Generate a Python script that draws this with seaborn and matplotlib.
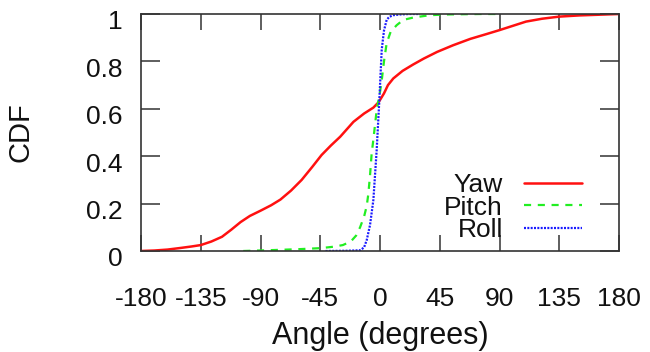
import numpy as np
import pandas as pd
import matplotlib
matplotlib.use("Agg")
import matplotlib.pyplot as plt
import matplotlib.transforms as mtransforms
import seaborn as sns

# Data
yaw_angle = [-180, -170, -160, -150, -142, -135, -127, -119, -112, -105, -98, -90, -82, -75, -67, -59, -51, -44, -37, -30, -20, -12, -5, -1, 3, 6, 10, 17, 25, 33, 43, 55, 68, 80, 90, 100, 110, 122, 135, 150, 165, 180]
yaw_cdf   = [0.0, 0.002, 0.006, 0.013, 0.019, 0.025, 0.04, 0.06, 0.09, 0.122, 0.148, 0.17, 0.193, 0.217, 0.255, 0.30, 0.355, 0.405, 0.445, 0.482, 0.545, 0.58, 0.605, 0.628, 0.665, 0.70, 0.728, 0.76, 0.787, 0.812, 0.84, 0.868, 0.895, 0.915, 0.932, 0.95, 0.968, 0.98, 0.989, 0.994, 0.997, 1.0]

pitch_angle = [-103, -80, -60, -45, -35, -28, -22, -18, -15, -12, -10, -8.8, -7.5, -6.3, -5, -4, -2.5, -1, 0, 1.3, 3, 5, 8, 12.6, 17.5, 25, 37.6, 50, 75, 90]
pitch_cdf   = [0.0, 0.004, 0.008, 0.012, 0.018, 0.025, 0.04, 0.065, 0.10, 0.145, 0.19, 0.24, 0.32, 0.41, 0.47, 0.52, 0.595, 0.64, 0.67, 0.72, 0.80, 0.876, 0.925, 0.953, 0.975, 0.985, 0.995, 0.998, 1.0, 1.0]

roll_angle = [-41, -25, -15, -12, -10, -7.5, -5, -2.5, -0.5, 1.3, 3, 5, 7, 10, 15, 22, 30]
roll_cdf   = [0.0, 0.001, 0.003, 0.015, 0.046, 0.11, 0.215, 0.426, 0.637, 0.85, 0.93, 0.975, 0.988, 0.995, 0.998, 1.0, 1.0]

x_ticks = [-180, -135, -90, -45, 0, 45, 90, 135, 180]
y_ticks = [0, 0.2, 0.4, 0.6, 0.8, 1]
y_tick_labels = ["0", "0.2", "0.4", "0.6", "0.8", "1"]

sns.set_theme(style="white")
plt.rcParams['font.family'] = ['Liberation Sans', 'DejaVu Sans']

fig = plt.figure(figsize=(6.5, 3.52), dpi=100)
ax = fig.add_axes([141/650, 1 - 251/352, (619-141)/650, (251-14)/352])

series = [
    ("Yaw", yaw_angle, yaw_cdf, "#ff1010", "-", 1.8),
    ("Pitch", pitch_angle, pitch_cdf, "#22ee22", (0, (3.2, 3.0)), 1.6),
    ("Roll", roll_angle, roll_cdf, "#1a1aff", (0, (0.9, 0.6)), 1.6),
]
for name, xa, ya, col, ls, lw in series:
    df = pd.DataFrame({"angle": xa, "cdf": ya})
    sns.lineplot(data=df, x="angle", y="cdf", ax=ax, color=col, linestyle=ls,
                 linewidth=lw, label=name, estimator=None, sort=True)

ax.set_xlim(-180, 180)
ax.set_ylim(0, 1)
ax.set_xticks(x_ticks)
ax.set_xticklabels([str(t) for t in x_ticks])
ax.set_yticks(y_ticks)
ax.set_yticklabels(y_tick_labels)
ax.tick_params(axis="both", which="major", direction="in", width=1.1,
               color="#333333", labelsize=19, top=True, right=True,
               bottom=True, left=True, labelcolor="#111111")
ax.tick_params(axis="x", length=11.5, pad=26)
ax.tick_params(axis="y", length=13.5, pad=13)
# y tick labels sit a few pixels lower in the reference
offset = mtransforms.ScaledTranslation(0, -6/100, fig.dpi_scale_trans)
for lab in ax.get_yticklabels():
    lab.set_transform(lab.get_transform() + offset)

for s in ax.spines.values():
    s.set_visible(True)
    s.set_color("#333333")
    s.set_linewidth(1.2)
ax.set_xlabel("Angle (degrees)", fontsize=22, color="#111111")
ax.set_ylabel("CDF", fontsize=21, color="#111111")
ax.xaxis.set_label_coords(0.5, -0.295)
ax.yaxis.set_label_coords(-0.222, 0.5)

leg = ax.legend(loc="lower right", frameon=False, markerfirst=False,
                fontsize=19, handlelength=2.2, handletextpad=0.8,
                labelspacing=-0.06, bbox_to_anchor=(582/478 - 141/478, 9/237),
                borderaxespad=0, borderpad=0)
for t in leg.get_texts():
    t.set_ha("right")
    t.set_color("#111111")

fig.savefig("out.png", dpi=100)
